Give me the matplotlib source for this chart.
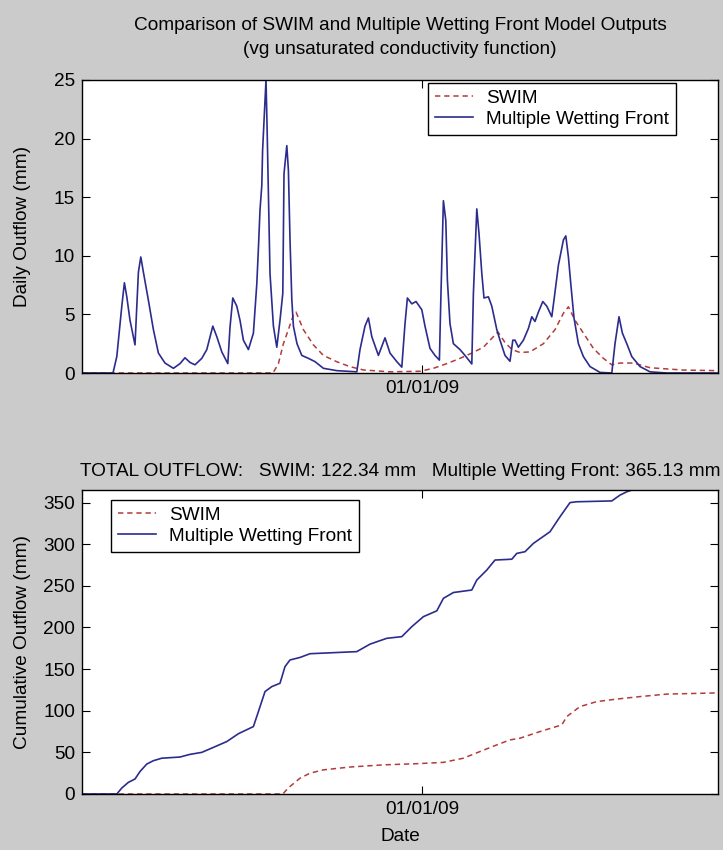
import pandas as pd
import matplotlib
matplotlib.use("Agg")
import matplotlib.pyplot as plt

plt.rcParams['font.family'] = ['Liberation Sans', 'DejaVu Sans']

start = pd.Timestamp("2008-07-15")
end_day = 318
tick_dates = [pd.Timestamp("2009-01-01")]
tick_labels = ["01/01/09"]

# daily outflow (mm), vertices: days since start
mwf_days = [0, 15.5, 17.4, 19.9, 21.2, 22.4, 24, 26.5, 28.2, 29.4, 30.7, 33.2, 35.7, 38.2,
            41.5, 45.7, 49, 51.5, 54, 56.5, 59.9, 62.4, 65.4, 67.4, 69.9, 72.9, 74, 75.4,
            77.4, 79, 80.7, 83.2, 85.7, 87.4, 88.3, 89, 89.9, 90.3, 91, 91.7, 92, 92.5,
            93.2, 94, 95.7, 97.4, 99, 100.4, 101, 102.4, 103.2, 104, 104.9, 105.7, 107.5,
            109.9, 113.2, 116.5, 120.7, 127.4, 137.4, 139, 141.5, 143.2, 144.9, 148.2,
            151.5, 154, 157.4, 159.9, 161.5, 162.7, 164.9, 167, 169.9, 171.5, 174, 176.5,
            178.7, 179.4, 180.7, 181.9, 182.7, 184, 185.7, 189, 191.5, 194.9, 195.7, 197.4,
            198.5, 199.9, 201, 203.2, 204.9, 207.4, 209, 211.5, 214, 215.4, 216.5, 218.2,
            220.7, 223.2, 224.9, 226.5, 228.2, 230.4, 232.4, 234.9, 236.2, 238.2, 240.7,
            241.9, 243.2, 244.4, 246, 248.2, 250.7, 254, 259, 264.9, 266.5, 268.5, 270.2,
            272.4, 274.9, 279, 284, 292.4, 318]
mwf_daily = [0, 0, 1.4, 5.7, 7.7, 6.5, 4.5, 2.4, 8.6, 9.9, 8.6, 6.2, 3.7, 1.7,
             0.85, 0.4, 0.8, 1.3, 0.9, 0.7, 1.25, 2.0, 4.0, 3.1, 1.8, 0.8, 3.9, 6.4,
             5.7, 4.5, 2.8, 2.0, 3.4, 7.6, 11.0, 13.9, 16.0, 19.0, 21.5, 24.0, 25.0, 21.3,
             15.1, 8.5, 4.0, 2.2, 4.5, 6.8, 17.0, 19.4, 17.3, 11.4, 6.3, 4.0, 2.5,
             1.5, 1.25, 0.97, 0.4, 0.2, 0.1, 2.0, 4.0, 4.7, 3.1, 1.5,
             3.0, 1.7, 0.97, 0.5, 4.2, 6.4, 5.9, 6.1, 5.4, 4.0, 2.1, 1.5,
             1.1, 6.2, 14.7, 13.0, 7.9, 4.2, 2.5, 2.0, 1.5, 0.77, 6.8, 14.0,
             11.9, 8.5, 6.4, 6.5, 5.7, 3.7, 2.8, 1.5, 1.0, 2.8, 2.8, 2.2,
             2.8, 3.8, 4.8, 4.4, 5.2, 6.1, 5.7, 4.8, 6.5, 9.2, 11.35,
             11.7, 9.9, 7.6, 4.7, 2.5, 1.4, 0.55, 0.05, 0, 2.5, 4.8, 3.4,
             2.5, 1.4, 0.55, 0.1, 0, 0]

swim_days = [0, 95.5, 98.2, 100.7, 103.2, 105.7, 107, 110.7, 115.7, 120.7, 127.4, 134,
             140.7, 154, 169, 175.7, 182.4, 189, 194.9, 200.7, 205.7, 208, 211.5, 215,
             219, 224, 230.7, 236.5, 240.7, 243.2, 246.5, 250.7, 255.7, 260.7, 264.9,
             269, 275.7, 284, 300.7, 318]
swim_daily = [0, 0, 0.8, 2.5, 3.7, 4.95, 5.2, 3.7, 2.4, 1.5, 0.96, 0.54,
              0.26, 0.1, 0.15, 0.4, 0.8, 1.25, 1.7, 2.2, 3.1, 3.5, 2.6, 2.0,
              1.75, 1.8, 2.5, 3.7, 5.1, 5.65, 4.5, 3.4, 2.1, 1.25, 0.7,
              0.85, 0.85, 0.45, 0.25, 0.2]

# cumulative outflow (mm)
mwf_cum_days = [0, 17.4, 19.9, 23.2, 26.5, 29, 32.4, 35.7, 39.9, 49, 54, 59.9, 65.7, 72.4,
                78.2, 85.7, 88.2, 91.5, 94.9, 99, 101.5, 104, 109, 114, 137.4, 144, 152.4,
                159.9, 164.9, 170.7, 177.4, 180.7, 185.7, 194.9, 197.4, 202.4, 206.5, 214.9,
                217.4, 221.5, 225.7, 234, 239, 244, 247.4, 264.9, 269, 272.4, 274.9, 318]
mwf_cum = [0, 0, 7.2, 14, 18, 27, 36, 40, 43, 44.4, 47.6, 50, 56, 63,
           72.4, 81, 99, 123, 129, 133, 153, 161, 164, 168.5, 171, 180, 187,
           189, 201, 213, 220, 235, 242, 245, 257, 269, 281, 282,
           289, 291, 301, 315, 333, 350, 351, 352, 359, 363, 365.13, 365.13]

swim_cum_days = [0, 100.5, 101.5, 104, 109, 114, 120.7, 134, 150.7, 167.4, 180.7, 190.7,
                 199, 207.4, 214, 219, 229, 239.9, 242.4, 249, 257.4, 267.4, 279, 292.4,
                 315.7, 318]
swim_cum = [0, 0, 3, 9, 19, 25, 29, 32.4, 35, 36.4, 38, 43,
            51, 59, 65, 67, 75, 83, 93, 105, 111, 114, 117, 120,
            121.3, 122.34]

total_swim = 122.34
total_mwf = 365.13


def to_dates(days):
    return start + pd.to_timedelta(days, unit="D")


red = "#b23c3c"
blue = "#2c2c8e"
fs = 13.7
leg_kw = dict(fontsize=fs, frameon=True, fancybox=False, edgecolor="black", framealpha=1,
              borderpad=0.35, handlelength=2.0, handletextpad=0.7, labelspacing=0.2,
              borderaxespad=0)

fig = plt.figure(figsize=(7.23, 8.5), dpi=100, facecolor="#cbcbcb")
ax1 = fig.add_axes([82 / 723, 1 - 373 / 850, 636 / 723, 293 / 850])
ax2 = fig.add_axes([82 / 723, 1 - 794 / 850, 636 / 723, 304 / 850])

# top: daily outflow
ax1.plot(to_dates(swim_days), swim_daily, "--", color=red, lw=1.1, dashes=(3.5, 2.5), label="SWIM")
ax1.plot(to_dates(mwf_days), mwf_daily, "-", color=blue, lw=1.2, label="Multiple Wetting Front")
ax1.set_ylim(0, 25)
ax1.set_yticks([0, 5, 10, 15, 20, 25])
ax1.set_ylabel("Daily Outflow (mm)", fontsize=fs)
ax1.yaxis.set_label_coords(-0.08, 0.5)
ax1.legend(loc="upper left", bbox_to_anchor=(0.544, 0.99), **leg_kw)

fig.text(400 / 723, 1 - 25 / 850, "Comparison of SWIM and Multiple Wetting Front Model Outputs",
         ha="center", va="center", fontsize=fs)
fig.text(400 / 723, 1 - 50 / 850, "(vg unsaturated conductivity function)",
         ha="center", va="center", fontsize=fs)

# bottom: cumulative outflow
ax2.plot(to_dates(swim_cum_days), swim_cum, "--", color=red, lw=1.1, dashes=(3.5, 2.5), label="SWIM")
ax2.plot(to_dates(mwf_cum_days), mwf_cum, "-", color=blue, lw=1.2, label="Multiple Wetting Front")
ax2.set_ylim(0, total_mwf)
ax2.set_yticks([0, 50, 100, 150, 200, 250, 300, 350])
ax2.set_ylabel("Cumulative Outflow (mm)", fontsize=fs)
ax2.yaxis.set_label_coords(-0.08, 0.5)
ax2.set_xlabel("Date", fontsize=fs, labelpad=7)
ax2.legend(loc="upper left", bbox_to_anchor=(0.046, 0.967), **leg_kw)
ax2.set_title(f"TOTAL OUTFLOW:   SWIM: {total_swim:.2f} mm   Multiple Wetting Front: {total_mwf:.2f} mm",
              fontsize=fs, pad=10)

for ax in (ax1, ax2):
    ax.set_facecolor("white")
    ax.set_xlim(start, to_dates([end_day])[0])
    ax.set_xticks(tick_dates)
    ax.set_xticklabels(tick_labels)
    ax.tick_params(direction="in", length=6, top=True, right=True, labelsize=fs, pad=5)
    for s in ax.spines.values():
        s.set_linewidth(1.0)

fig.savefig("out.png", dpi=100, facecolor=fig.get_facecolor())
